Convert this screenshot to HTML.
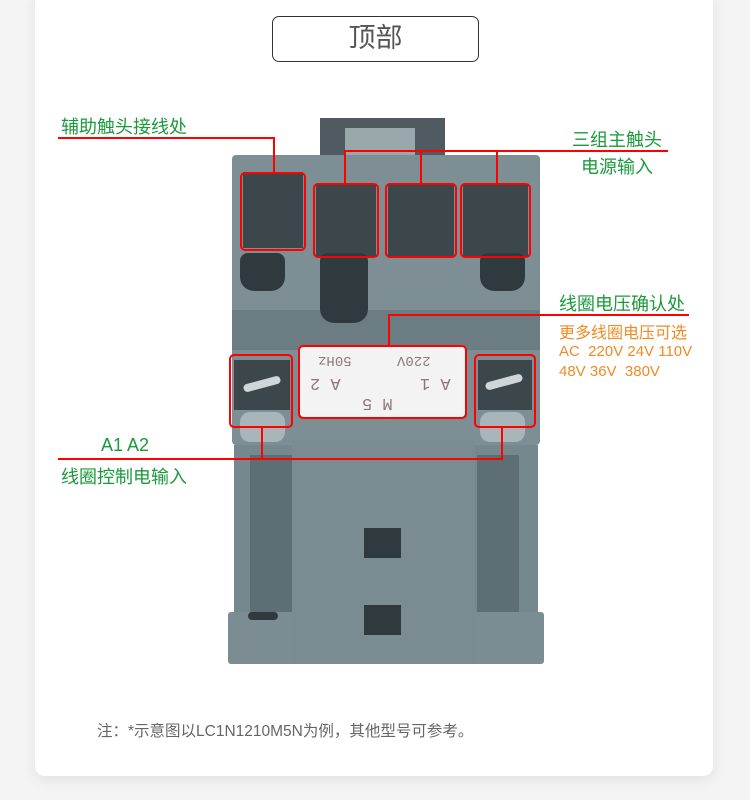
<!DOCTYPE html>
<html><head><meta charset="utf-8"><style>
*{margin:0;padding:0;box-sizing:border-box}
body{width:750px;height:800px;background:#f4f4f4;position:relative;overflow:hidden;font-family:"Liberation Sans","Noto Sans CJK SC",sans-serif}
.card{position:absolute;left:35px;top:-10px;width:678px;height:786px;background:#fff;border-radius:10px;box-shadow:0 4px 14px rgba(0,0,0,.08)}
.a{position:absolute}
.g{color:#1a9a3a;font-size:18px;white-space:nowrap}
.o{color:#f08a24;font-size:16px;white-space:nowrap}
.r{background:#f00}
.box{border:2px solid #f00;border-radius:5px}
.dk{background:#3c474b}
.lb{position:absolute;transform:rotate(180deg);color:#8c7a78;font-family:'Liberation Mono',monospace;white-space:nowrap}
</style></head><body>
<div class="card"></div>
<div class="a" style="left:272px;top:16px;width:207px;height:46px;border:1.5px solid #333;border-radius:7px;text-align:center;line-height:43px;font-size:27px;color:#555">顶部</div>

<div class="a" style="left:320px;top:118px;width:125px;height:45px;background:#4f5b60"></div>
<div class="a" style="left:345px;top:128px;width:70px;height:35px;background:#9aa7ab"></div>
<div class="a" style="left:232px;top:155px;width:308px;height:290px;background:#7d8e94;border-radius:4px"></div>
<div class="a" style="left:232px;top:310px;width:308px;height:40px;background:#6b7c82"></div>
<div class="a dk" style="left:243px;top:172px;width:60px;height:76px"></div>
<div class="a dk" style="left:316px;top:184px;width:60px;height:72px"></div>
<div class="a dk" style="left:388px;top:184px;width:66px;height:72px"></div>
<div class="a dk" style="left:463px;top:184px;width:65px;height:72px"></div>
<div class="a" style="left:240px;top:253px;width:45px;height:38px;background:#2f3a3e;border-radius:8px 8px 14px 14px"></div>
<div class="a" style="left:320px;top:253px;width:48px;height:70px;background:#2f3a3e;border-radius:8px 8px 14px 14px"></div>
<div class="a" style="left:480px;top:253px;width:45px;height:38px;background:#2f3a3e;border-radius:8px 8px 14px 14px"></div>
<div class="a" style="left:300px;top:345px;width:165px;height:72px;background:#f3f3f3;border-radius:4px"></div>
<div class="lb" style="left:318px;top:352px;font-size:14px">50Hz</div>
<div class="lb" style="left:397px;top:352px;font-size:14px">220V</div>
<div class="lb" style="left:310px;top:373px;font-size:17px">A 2</div>
<div class="lb" style="left:420px;top:373px;font-size:17px">A 1</div>
<div class="lb" style="left:362px;top:393px;font-size:17px">M 5</div>
<div class="a dk" style="left:234px;top:360px;width:56px;height:50px"></div>
<div class="a dk" style="left:478px;top:360px;width:54px;height:50px"></div>
<div class="a" style="left:243px;top:380px;width:38px;height:8px;background:#cfd6d8;border-radius:4px;transform:rotate(-15deg)"></div>
<div class="a" style="left:485px;top:378px;width:38px;height:8px;background:#cfd6d8;border-radius:4px;transform:rotate(-15deg)"></div>
<div class="a" style="left:240px;top:412px;width:45px;height:30px;background:#a8b5b9;border-radius:10px"></div>
<div class="a" style="left:480px;top:412px;width:45px;height:30px;background:#a8b5b9;border-radius:10px"></div>
<div class="a" style="left:234px;top:445px;width:304px;height:180px;background:#75888e"></div>
<div class="a" style="left:250px;top:455px;width:42px;height:170px;background:#5d6f75"></div>
<div class="a" style="left:477px;top:455px;width:42px;height:170px;background:#5d6f75"></div>
<div class="a" style="left:228px;top:612px;width:316px;height:52px;background:#7b8d93;border-radius:3px"></div>
<div class="a" style="left:292px;top:440px;width:183px;height:224px;background:#7a8c92"></div>
<div class="a" style="left:364px;top:528px;width:37px;height:30px;background:#2f3a3e"></div>
<div class="a" style="left:364px;top:605px;width:37px;height:30px;background:#2f3a3e"></div>
<div class="a" style="left:248px;top:612px;width:30px;height:8px;background:#2f3a3e;border-radius:4px"></div>

<div class="a box" style="left:240px;top:172px;width:66px;height:79px"></div>
<div class="a box" style="left:313px;top:183px;width:66px;height:75px"></div>
<div class="a box" style="left:385px;top:183px;width:72px;height:75px"></div>
<div class="a box" style="left:460px;top:183px;width:71px;height:75px"></div>
<div class="a box" style="left:298px;top:345px;width:169px;height:74px"></div>
<div class="a box" style="left:229px;top:354px;width:64px;height:74px"></div>
<div class="a box" style="left:474px;top:354px;width:62px;height:74px"></div>
<div class="a r" style="left:58px;top:137px;width:217px;height:2px"></div>
<div class="a r" style="left:273px;top:137px;width:2px;height:36px"></div>
<div class="a r" style="left:344px;top:150px;width:324px;height:2px"></div>
<div class="a r" style="left:344px;top:150px;width:2px;height:34px"></div>
<div class="a r" style="left:420px;top:150px;width:2px;height:34px"></div>
<div class="a r" style="left:496px;top:150px;width:2px;height:34px"></div>
<div class="a r" style="left:388px;top:314px;width:301px;height:2px"></div>
<div class="a r" style="left:388px;top:314px;width:2px;height:32px"></div>
<div class="a r" style="left:58px;top:458px;width:445px;height:2px"></div>
<div class="a r" style="left:261px;top:427px;width:2px;height:33px"></div>
<div class="a r" style="left:501px;top:427px;width:2px;height:33px"></div>

<div class="a g" style="left:61px;top:113px">辅助触头接线处</div>
<div class="a g" style="left:572px;top:126px">三组主触头</div>
<div class="a g" style="left:581px;top:153px">电源输入</div>
<div class="a g" style="left:559px;top:290px">线圈电压确认处</div>
<div class="a o" style="left:559px;top:319px">更多线圈电压可选</div>
<div class="a o" style="left:559px;top:343px;font-size:15px">AC&nbsp; 220V 24V 110V</div>
<div class="a o" style="left:559px;top:363px;font-size:15px">48V 36V&nbsp; 380V</div>
<div class="a g" style="left:101px;top:435px">A1 A2</div>
<div class="a g" style="left:61px;top:463px">线圈控制电输入</div>
<div class="a" style="left:97px;top:719px;font-size:15.5px;color:#666;white-space:nowrap">注：*示意图以LC1N1210M5N为例，其他型号可参考。</div>
</body></html>
